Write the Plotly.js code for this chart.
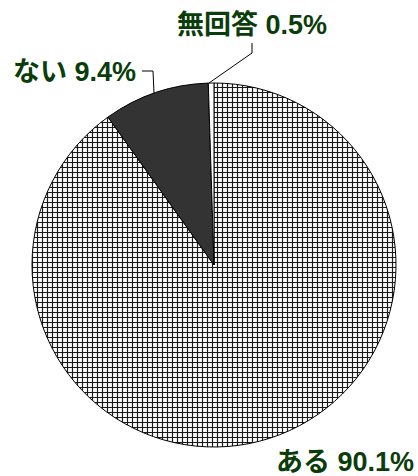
<!DOCTYPE html>
<html>
<head>
<meta charset="utf-8">
<script src="https://cdn.plot.ly/plotly-3.0.1.min.js"></script>
<style>html,body{margin:0;padding:0;background:#fff;}#chart{width:418px;height:476px;}</style>
</head>
<body>
<div id="chart"></div>
<script>
const categories = ["ある", "ない", "無回答"];
const values = [90.1, 9.4, 0.5];
const labelTexts = ["ある 90.1%", "ない 9.4%", "無回答 0.5%"];

const W = 418, H = 476;
const px = x => x / W;
const py = y => 1 - y / H;
const green = "#0b3d0b";
const font = {family: "Liberation Sans, Arial, Noto Sans CJK JP, sans-serif", size: 27, color: green};

const trace = {
  type: "pie",
  labels: categories,
  values: values,
  sort: false,
  direction: "clockwise",
  rotation: 0,
  textinfo: "none",
  hoverinfo: "skip",
  domain: {x: [px(32), px(396)], y: [py(447), py(83)]},
  marker: {
    colors: ["#ffffff", "#333333", "#ffffff"],
    line: {color: "#000000", width: 1},
    pattern: {
      shape: ["+", "", ""],
      fgcolor: "#1a1a1a",
      bgcolor: "#ffffff",
      size: 5,
      solidity: 0.42
    }
  },
  showlegend: false
};

const layout = {
  width: W, height: H,
  margin: {l: 0, r: 0, t: 0, b: 0},
  paper_bgcolor: "#fff",
  showlegend: false,
  annotations: [
    {text: "<b>" + labelTexts[2] + "</b>", x: px(252), y: py(24), xref: "paper", yref: "paper", showarrow: false, font: font, xanchor: "center", yanchor: "middle"},
    {text: "<b>" + labelTexts[1] + "</b>", x: px(74), y: py(72), xref: "paper", yref: "paper", showarrow: false, font: font, xanchor: "center", yanchor: "middle"},
    {text: "<b>" + labelTexts[0] + "</b>", x: px(345), y: py(462), xref: "paper", yref: "paper", showarrow: false, font: font, xanchor: "center", yanchor: "middle"}
  ],
  shapes: [
    {type: "path", xref: "paper", yref: "paper",
     path: `M ${px(252)} ${py(43)} L ${px(252)} ${py(53)} L ${px(209)} ${py(83)}`,
     line: {color: "#000", width: 1}},
    {type: "path", xref: "paper", yref: "paper",
     path: `M ${px(142)} ${py(71)} L ${px(153)} ${py(71)} L ${px(154)} ${py(93)}`,
     line: {color: "#000", width: 1}}
  ]
};

Plotly.newPlot("chart", [trace], layout, {displayModeBar: false, staticPlot: true});
</script>
</body>
</html>
